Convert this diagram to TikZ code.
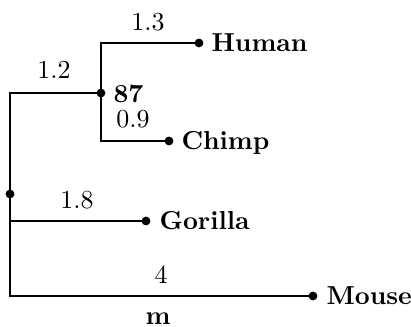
\documentclass[tikz,border=0pt]{standalone}
\begin{document}
\begin{tikzpicture}[x=0.385pt,y=-0.385pt,
  dotnode/.style={circle,fill=black,inner sep=0pt,minimum size=3.4pt},
  branch/.style={line width=0.75pt},
  leaflabel/.style={anchor=base west,inner sep=0pt,font=\bfseries},
  lenlabel/.style={inner sep=0pt}]
\useasboundingbox (0,0) rectangle (411,327);
\node[dotnode] (root) at (10,194) {};
\node[dotnode] (n87) at (101,93) {};
\node[dotnode] (human) at (199,43) {};
\node[dotnode] (chimp) at (169,141) {};
\node[dotnode] (gorilla) at (146,221) {};
\node[dotnode] (mouse) at (313,296) {};
\draw[branch] (n87.center) -| (root.center) |- (mouse.center);
\draw[branch] (root.center) |- (gorilla.center);
\draw[branch] (human.center) -| (n87.center) |- (chimp.center);
\node[leaflabel] (thuman) at (211,52) {Human};
\node[leaflabel] (tchimp) at (181,150) {Chimp};
\node[leaflabel] (tgorilla) at (159,230) {Gorilla};
\node[leaflabel] (tmouse) at (326,305) {Mouse};
\node[anchor=west,inner sep=0pt,font=\bfseries] (t87) at (113,94) {87};
\node[lenlabel] (l13) at (148,22) {1.3};
\node[lenlabel] (l12) at (54,70) {1.2};
\node[lenlabel] (l09) at (133,119) {0.9};
\node[lenlabel] (l18) at (77,200) {1.8};
\node[lenlabel] (l4) at (161,275) {4};
\node[anchor=base,inner sep=0pt,font=\bfseries] (tm) at (158,324) {m};
\end{tikzpicture}
\end{document}
